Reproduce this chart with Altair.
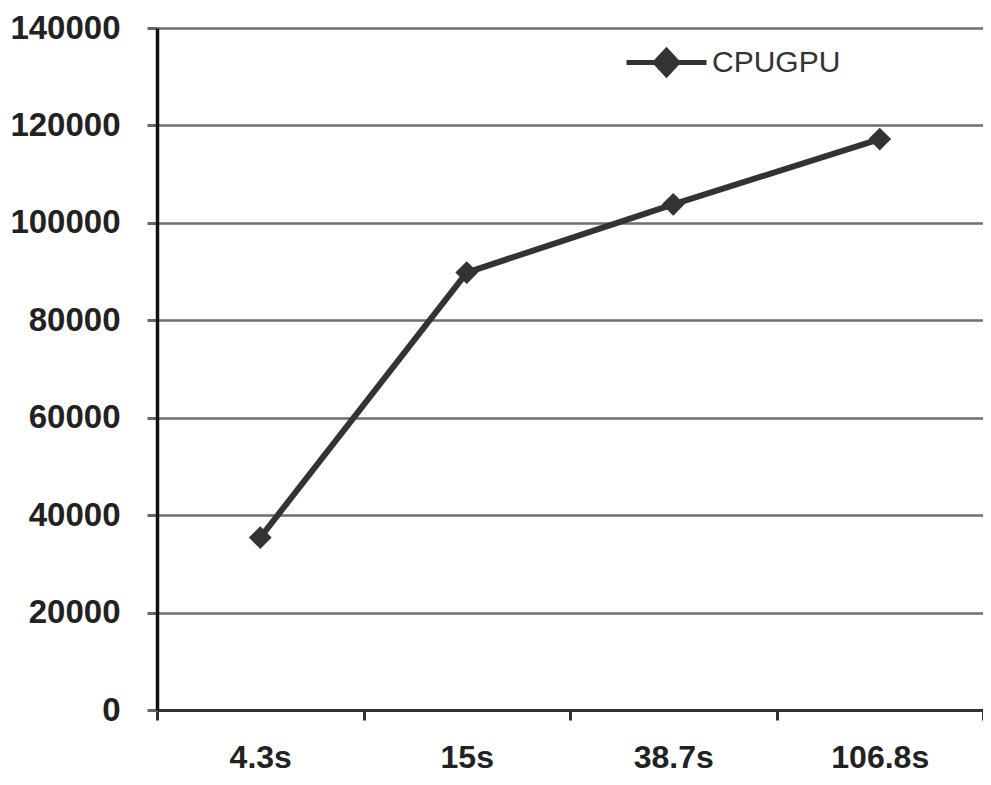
import altair as alt
import pandas as pd

categories = ["4.3s", "15s", "38.7s", "106.8s"]
values = [35400, 89800, 103800, 117200]
series = ["CPUGPU"] * 4

df = pd.DataFrame({"time": categories, "value": values, "series": series})

legend_symbol = "M-1,0H1M0,-0.3L0.28,0L0,0.3L-0.28,0Z"

x = alt.X(
    "time:N",
    sort=categories,
    title=None,
    scale=alt.Scale(paddingInner=0, paddingOuter=0),
    axis=alt.Axis(
        tickBand="extent",
        labelAngle=0,
        labelFont="Liberation Sans",
        labelFontWeight="bold",
        labelFontSize=32,
        labelColor="#222222",
        labelPadding=22,
        tickSize=10,
        tickColor="#333333",
        tickWidth=3,
        domainColor="#333333",
        domainWidth=3,
        grid=False,
    ),
)
y = alt.Y(
    "value:Q",
    title=None,
    scale=alt.Scale(domain=[0, 140000], nice=False),
    axis=alt.Axis(
        values=[0, 20000, 40000, 60000, 80000, 100000, 120000, 140000],
        format="d",
        labelFont="Liberation Sans",
        labelFontWeight="bold",
        labelFontSize=33,
        labelColor="#222222",
        labelPadding=27,
        tickSize=10,
        tickColor="#666666",
        tickWidth=3,
        domainColor="#111111",
        domainWidth=3.5,
        grid=True,
        gridColor="#6e6e6e",
        gridWidth=2.5,
    ),
)
color = alt.Color(
    "series:N",
    title=None,
    scale=alt.Scale(range=["#333333"]),
    legend=alt.Legend(
        orient="none",
        legendX=467,
        legendY=-8,
        symbolType=legend_symbol,
        symbolSize=6400,
        symbolStrokeWidth=5,
        symbolFillColor="#333333",
        symbolStrokeColor="#333333",
        labelFont="Liberation Sans",
        labelFontSize=30,
        labelColor="#333333",
        labelOffset=3,
        padding=0,
    ),
)

line = alt.Chart(df).mark_line(strokeWidth=6, color="#333333").encode(x=x, y=y, color=color)
points = alt.Chart(df).mark_point(
    shape="diamond", filled=True, size=520, opacity=1, color="#333333"
).encode(x=x, y=y, color=color)

chart = (
    alt.layer(line, points)
    .properties(
        width=826,
        height=682,
        autosize=alt.AutoSizeParams(type="none"),
        padding={"left": 149, "top": 20, "right": 0, "bottom": 66},
        background="white",
    )
    .configure_view(stroke=None)
)

chart.save("out.html", embed_options={"renderer": "svg", "actions": False})
